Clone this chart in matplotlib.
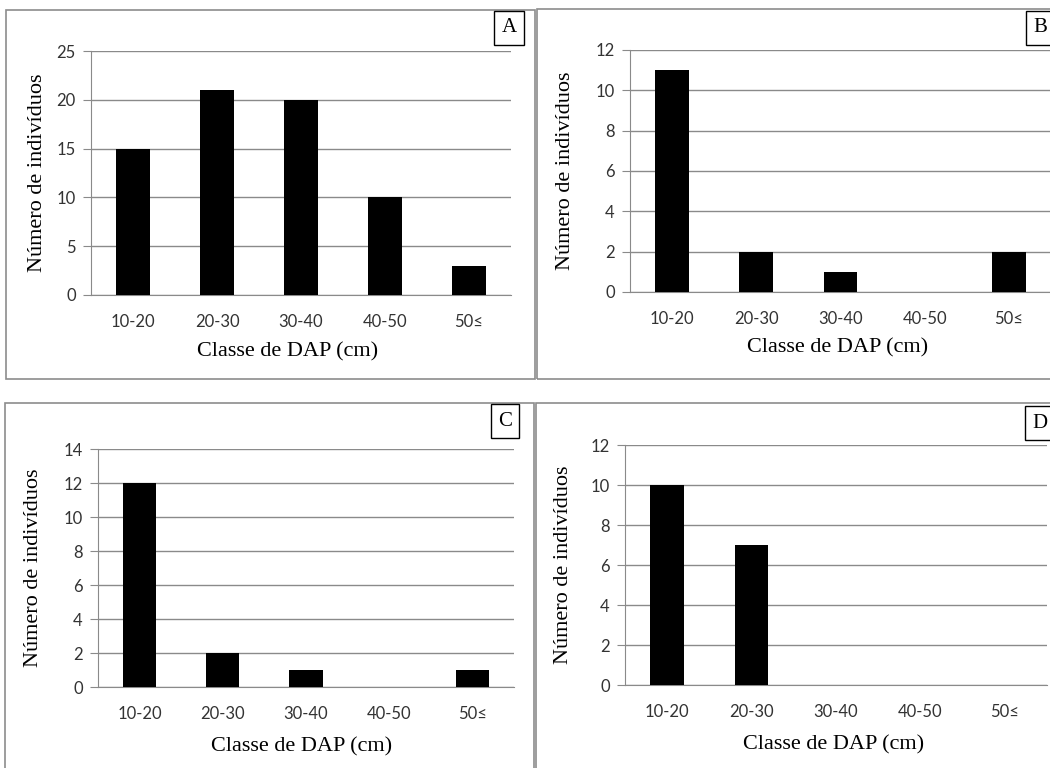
import matplotlib
matplotlib.use("Agg")
from matplotlib import pyplot as plt
from matplotlib.patches import Rectangle

classes = ["10-20", "20-30", "30-40", "40-50", "50≤"]
counts_a = [15, 21, 20, 10, 3]
counts_b = [11, 2, 1, 0, 2]
counts_c = [12, 2, 1, 0, 1]
counts_d = [10, 7, 0, 0, 0]

ymax = {"A": 25, "B": 12, "C": 14, "D": 12}
ystep = {"A": 5, "B": 2, "C": 2, "D": 2}

W, H = 1050, 768
fig = plt.figure(figsize=(W / 100, H / 100), dpi=100)

serif = ["Liberation Serif", "DejaVu Serif"]
sans = ["Lato", "DejaVu Sans"]
grey = "#8a8a8a"

# panel borders (pixels: x0, y0, x1, y1 from top-left)
borders = [(6, 10, 535, 379), (537, 9, 1052, 379), (5, 403, 534, 770), (536, 403, 1052, 770)]
for x0, y0, x1, y1 in borders:
    fig.patches.append(Rectangle((x0 / W, 1 - y1 / H), (x1 - x0) / W, (y1 - y0) / H,
                                 transform=fig.transFigure, fill=False,
                                 ec="#8c8c8c", lw=1.2))

# axes boxes in pixels: left, right, y of zero, y of top
boxes = {"A": (91, 511, 295, 51), "B": (630, 1051, 292, 50),
         "C": (98, 514, 687, 449), "D": (625, 1047, 685, 445)}
data = {"A": counts_a, "B": counts_b, "C": counts_c, "D": counts_d}
letter_pos = {"A": (509, 28), "B": (1040, 28), "C": (505, 421), "D": (1040, 423)}
xlabel_pos = {"A": (288, 352), "B": (838, 348), "C": (302, 747), "D": (834, 745)}
ylabel_x = {"A": 38, "B": 565, "C": 34, "D": 563}

for key in ["A", "B", "C", "D"]:
    l, r, y0, y1 = boxes[key]
    ax = fig.add_axes([l / W, 1 - y0 / H, (r - l) / W, (y0 - y1) / H])
    ax.bar(range(len(classes)), data[key], width=0.4, color="black", zorder=3)
    ax.set_xlim(-0.5, 4.5)
    ax.set_ylim(0, ymax[key])
    ax.set_yticks(range(0, ymax[key] + 1, ystep[key]))
    ax.set_xticks(range(len(classes)))
    ax.set_xticklabels(classes, family=sans, fontsize=12, color="#333333")
    for t in ax.get_yticklabels():
        t.set_family(sans)
        t.set_fontsize(12)
        t.set_color("#333333")
    ax.yaxis.grid(True, color=grey, lw=1)
    ax.set_axisbelow(True)
    for s in ["top", "right"]:
        ax.spines[s].set_visible(False)
    ax.spines["left"].set_color(grey)
    ax.spines["bottom"].set_color(grey)
    ax.tick_params(axis="x", length=0, pad=14)
    ax.tick_params(axis="y", length=6, color=grey, pad=5)

    xx, xy = xlabel_pos[key]
    fig.text(xx / W, 1 - xy / H, "Classe de DAP (cm)", family=serif, fontsize=16,
             ha="center", va="center")
    fig.text(ylabel_x[key] / W, 1 - (y0 + y1) / 2 / H, "Número de indivíduos", family=serif,
             fontsize=16, rotation=90, ha="center", va="center")
    lx, ly = letter_pos[key]
    fig.text(lx / W, 1 - ly / H, key, family=serif, fontsize=15, ha="center", va="center",
             bbox=dict(boxstyle="square,pad=0.35", fc="white", ec="black", lw=1))

fig.savefig("out.png", dpi=100)
